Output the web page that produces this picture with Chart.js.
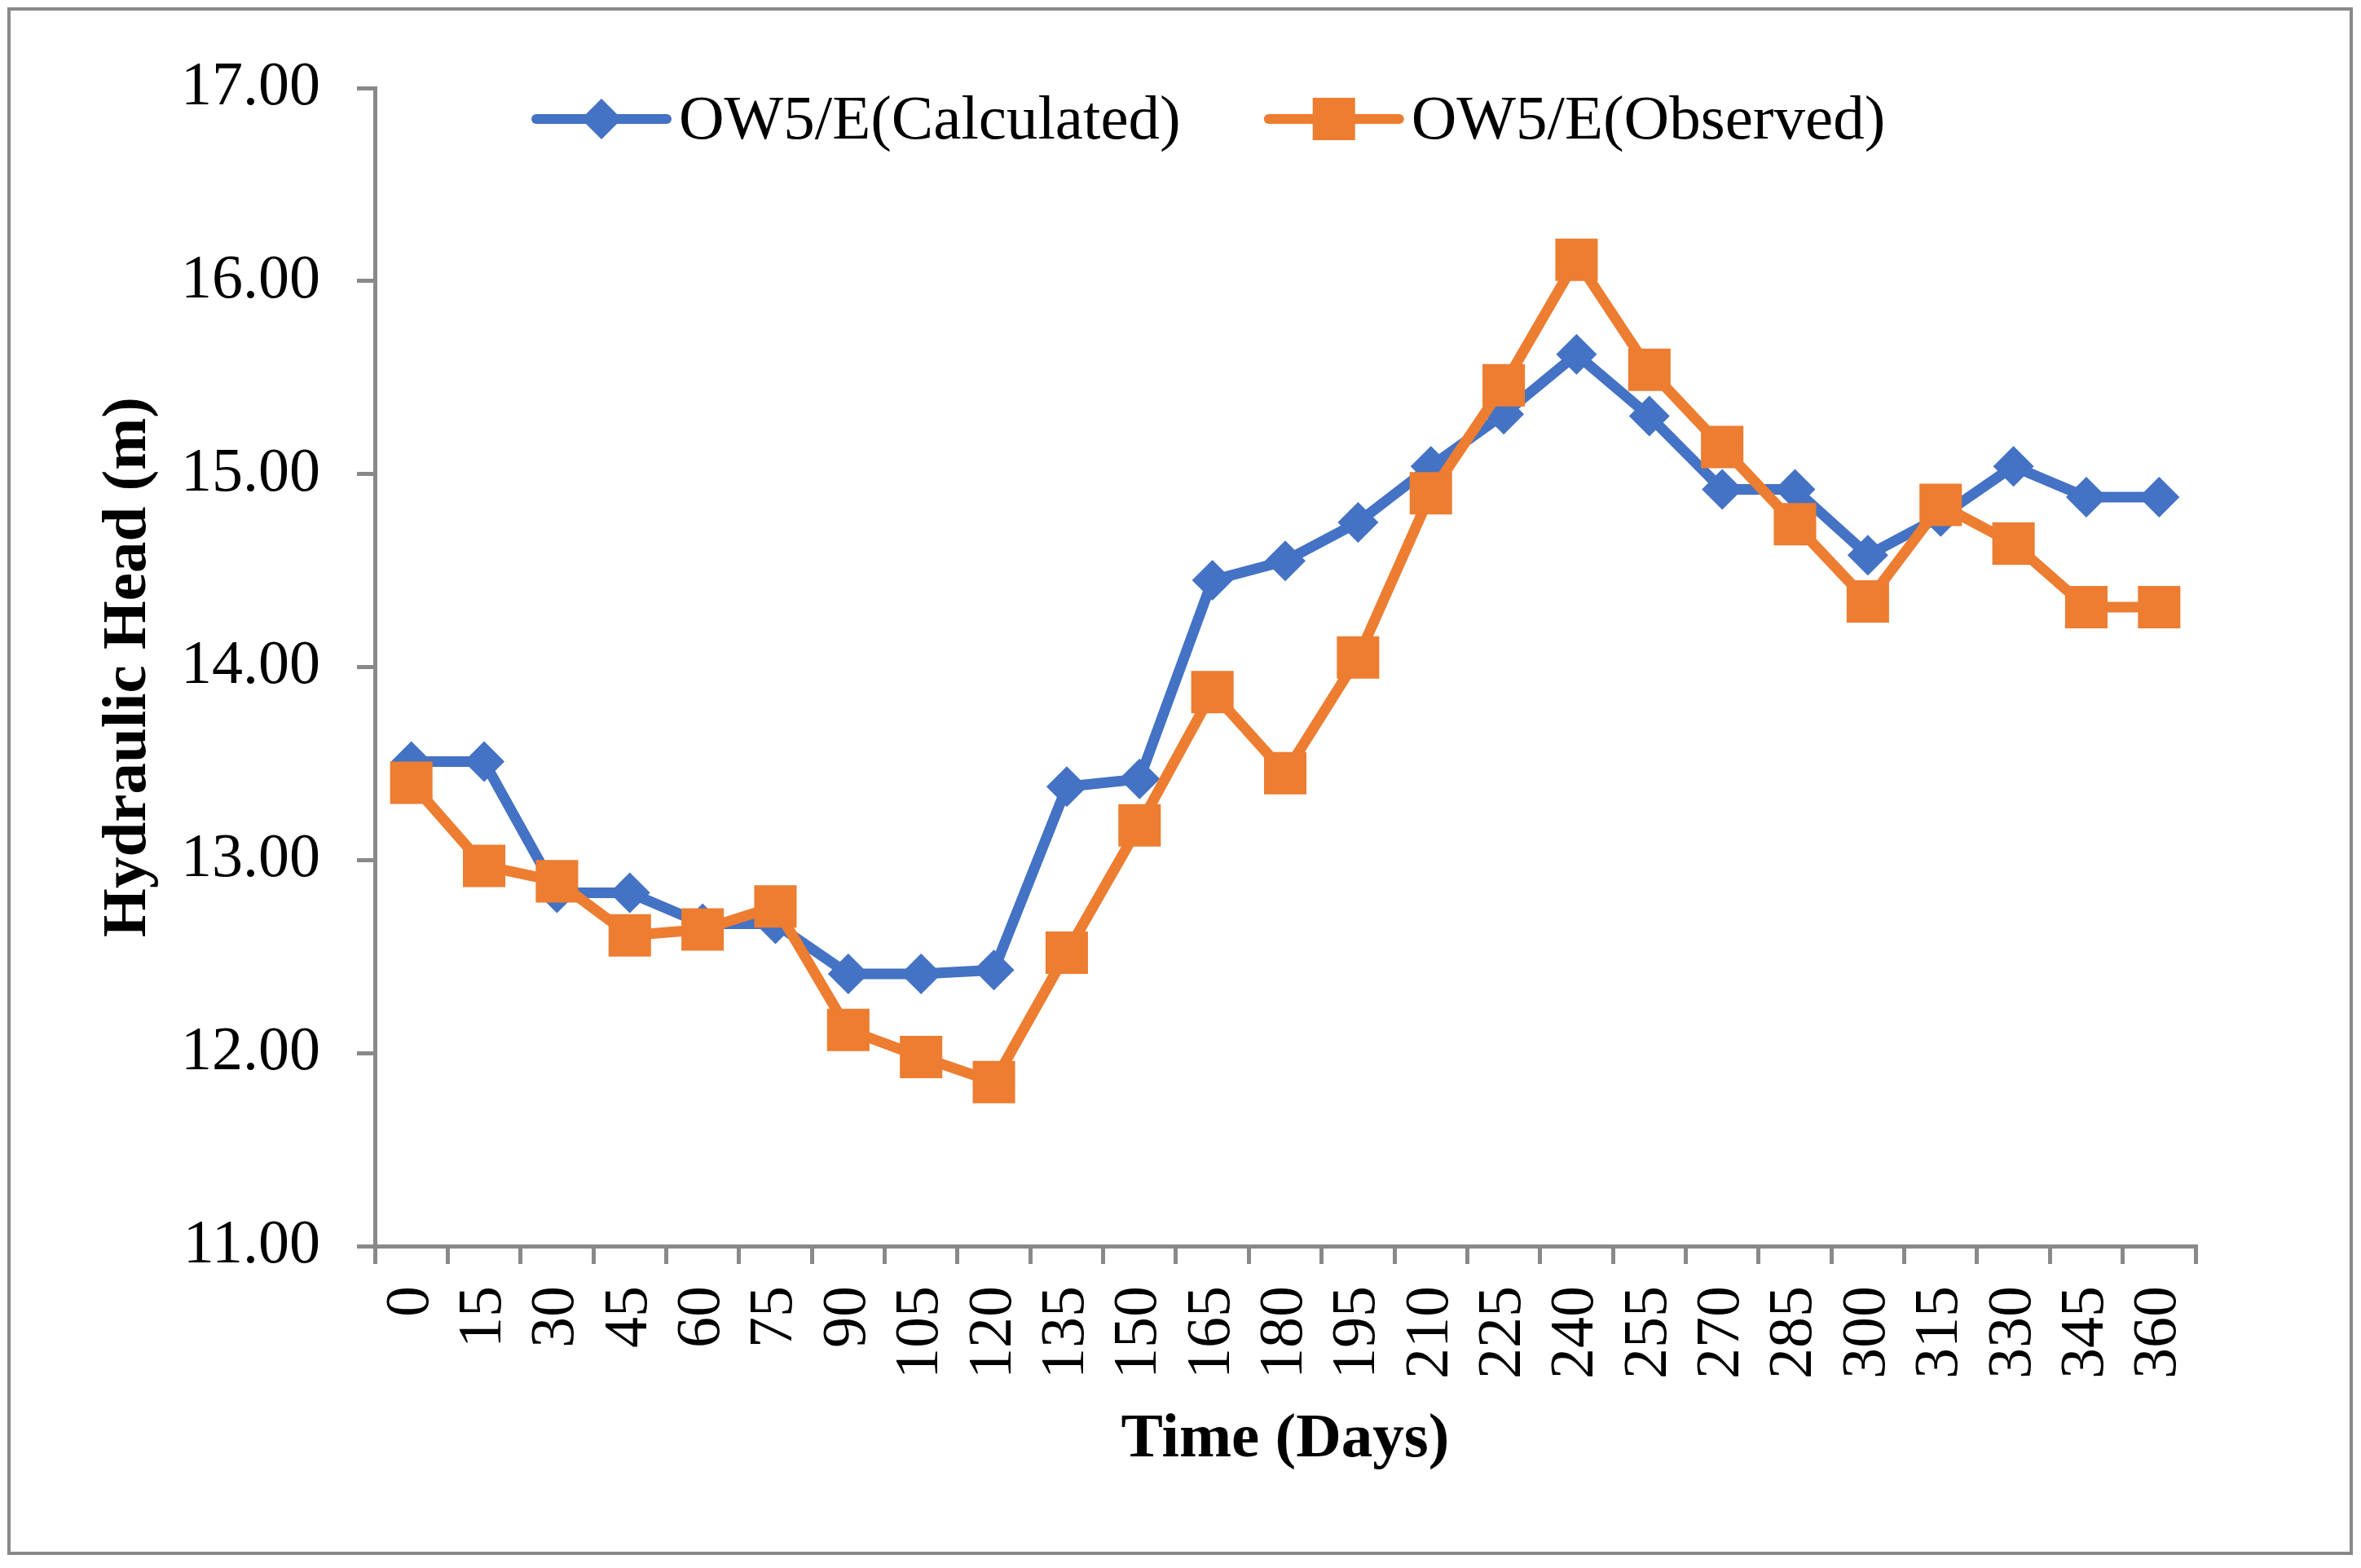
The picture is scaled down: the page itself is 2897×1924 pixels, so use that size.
<!DOCTYPE html>
<html>
<head>
<meta charset="utf-8">
<script src="https://cdn.jsdelivr.net/npm/chart.js"></script>
<style>
  html, body { margin: 0; padding: 0; background: #fff; }
  canvas { display: block; }
</style>
</head>
<body>
<canvas id="head" width="2897" height="1924" style="width:2897px;height:1924px"></canvas>
<script>
const days = ["0", "15", "30", "45", "60", "75", "90", "105", "120", "135", "150", "165", "180",
  "195", "210", "225", "240", "255", "270", "285", "300", "315", "330", "345", "360"];
const calculated = [13.51, 13.51, 12.83, 12.83, 12.67, 12.67, 12.41, 12.41, 12.43, 13.38, 13.42, 14.45, 14.55,
  14.75, 15.04, 15.31, 15.62, 15.30, 14.92, 14.92, 14.58, 14.78, 15.04, 14.88, 14.88];
const observed = [13.40, 12.97, 12.89, 12.61, 12.64, 12.76, 12.12, 11.98, 11.85, 12.52, 13.18, 13.87, 13.45,
  14.05, 14.90, 15.46, 16.11, 15.54, 15.14, 14.74, 14.34, 14.84, 14.64, 14.31, 14.31];
const seriesNames = ["OW5/E(Calculated)", "OW5/E(Observed)"];

const blue = "#4472C4";
const orange = "#ED7D31";
const axisGray = "#898989";
const serif = "'Liberation Serif', 'Times New Roman', serif";

// outer frame + legend drawn inside the plot, like the Excel original
const frameAndLegend = {
  id: "frameAndLegend",
  afterDraw(chart) {
    const ctx = chart.ctx;
    ctx.save();
    ctx.strokeStyle = axisGray;
    ctx.lineWidth = 4;
    ctx.strokeRect(11, 11, 2874, 1895);

    ctx.font = "77px " + serif;
    ctx.textBaseline = "middle";
    ctx.fillStyle = "#000";
    const y = 146;
    let x = 658;
    chart.data.datasets.forEach((ds, i) => {
      ctx.strokeStyle = ds.borderColor;
      ctx.lineWidth = 12;
      ctx.lineCap = "round";
      ctx.beginPath();
      ctx.moveTo(x, y);
      ctx.lineTo(x + 160, y);
      ctx.stroke();
      const cx = x + 80;
      ctx.fillStyle = ds.borderColor;
      ctx.beginPath();
      if (ds.pointStyle === "rectRot") {
        ctx.moveTo(cx - 25, y);
        ctx.lineTo(cx, y - 25);
        ctx.lineTo(cx + 25, y);
        ctx.lineTo(cx, y + 25);
        ctx.closePath();
      } else {
        ctx.rect(cx - 26, y - 26, 52, 52);
      }
      ctx.fill();
      ctx.fillStyle = "#000";
      const tx = x + 175;
      ctx.fillText(ds.label, tx, y + 4);
      x = tx + ctx.measureText(ds.label).width + 108;
    });
    ctx.restore();
  }
};

new Chart(document.getElementById("head"), {
  type: "line",
  data: {
    labels: days,
    datasets: [
      {
        label: seriesNames[0],
        data: calculated,
        borderColor: blue,
        backgroundColor: blue,
        borderWidth: 13,
        borderJoinStyle: "round",
        pointStyle: "rectRot",
        pointRadius: 25,
        pointHoverRadius: 25,
        pointBorderWidth: 0,
        order: 1,
      },
      {
        label: seriesNames[1],
        data: observed,
        borderColor: orange,
        backgroundColor: orange,
        borderWidth: 13,
        borderJoinStyle: "round",
        pointStyle: "rect",
        pointRadius: 36.8,
        pointHoverRadius: 36.8,
        pointBorderWidth: 0,
        order: 0,
      },
    ],
  },
  options: {
    responsive: false,
    devicePixelRatio: 1,
    animation: false,
    layout: {
      padding: { left: 104, right: 203, top: 108, bottom: 111 },
    },
    plugins: {
      legend: { display: false },
      tooltip: { enabled: false },
    },
    scales: {
      x: {
        type: "category",
        offset: true,
        grid: {
          offset: true,
          drawOnChartArea: false,
          tickLength: 22,
          color: axisGray,
          lineWidth: 5,
        },
        border: { color: axisGray, width: 5 },
        ticks: {
          autoSkip: false,
          minRotation: 90,
          maxRotation: 90,
          padding: 27,
          color: "#000",
          font: { family: serif, size: 76 },
        },
        title: {
          display: true,
          text: "Time (Days)",
          color: "#000",
          padding: { top: 2, bottom: 0 },
          font: { family: serif, size: 77, weight: "bold" },
        },
        afterFit: (scale) => {
          scale.height = 284;
        },
      },
      y: {
        min: 11,
        max: 17,
        grid: {
          drawOnChartArea: false,
          tickLength: 22,
          color: axisGray,
          lineWidth: 5,
        },
        border: { color: axisGray, width: 5 },
        ticks: {
          stepSize: 1,
          padding: 45,
          color: "#000",
          font: { family: serif, size: 76 },
          callback: (v) => Number(v).toFixed(2),
        },
        title: {
          display: true,
          text: "Hydraulic Head (m)",
          color: "#000",
          padding: { top: 8, bottom: 0 },
          font: { family: serif, size: 77, weight: "bold" },
        },
        afterFit: (scale) => {
          scale.width = 356;
        },
      },
    },
  },
  plugins: [frameAndLegend],
});
</script>
</body>
</html>
